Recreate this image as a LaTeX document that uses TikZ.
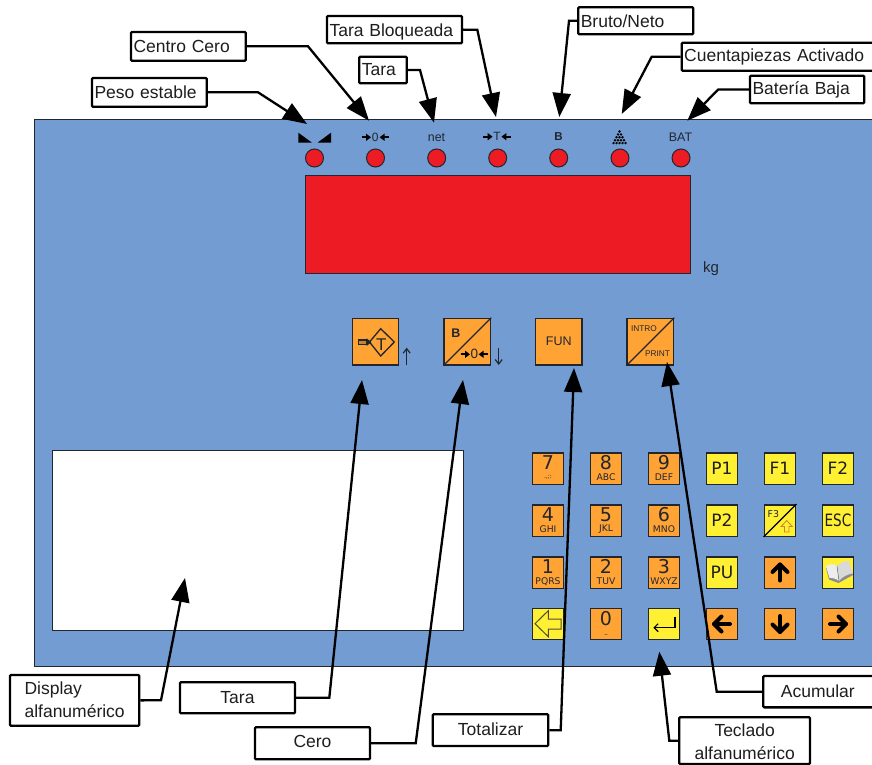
\documentclass[tikz,border=0pt]{standalone}
\usepackage{fontspec}
\setmainfont{Liberation Sans}
\newfontfamily\djvu{DejaVu Sans}
\usetikzlibrary{arrows.meta,calc}
\definecolor{panelblue}{HTML}{729CD2}
\definecolor{ledred}{HTML}{ED1C24}
\definecolor{keyorange}{HTML}{FFA335}
\definecolor{keyyellow}{HTML}{FFF033}
\definecolor{ink}{HTML}{1E1E1E}
\definecolor{panelink}{HTML}{22262E}
\tikzset{
  lbl/.style={draw=black,fill=white,line width=2.3pt,rounded corners=1pt,inner ysep=0pt,text=ink,font=\fontsize{17.5}{23}\selectfont},
  topl/.style={align=left,text width=\lblw pt,inner xsep=2.5pt},
  midl/.style={align=center,inner xsep=0pt},
  conn/.style={draw=black,line width=2.3pt,line join=miter,-{Triangle[length=24pt,width=18pt]}},
  led/.style={circle,draw=panelink,line width=1pt,fill=ledred,minimum size=18pt,inner sep=0pt},
  keybox/.style={draw=panelink,line width=1.4pt,minimum size=#1,inner sep=0pt},
  icontext/.style={text=panelink,inner sep=0pt},
  iconarrow/.style={draw=black,line width=2pt,-{Triangle[length=5pt,width=7pt]}},
  boldarrow/.style={draw=black,line width=4pt,line cap=round,line join=round},
}
\newcommand\lab[7]{%
  \pgfmathsetmacro\lblcx{(#3+#5)/2}\pgfmathsetmacro\lblcy{(#4+#6)/2}%
  \pgfmathsetmacro\lblwd{#5-#3}\pgfmathsetmacro\lblht{#6-#4}\pgfmathsetmacro\lblw{#5-#3-5}%
  \node[lbl,#1,minimum width=\lblwd pt,minimum height=\lblht pt] (#2) at (\lblcx,\lblcy) {#7};}
\newcommand\numkey[6]{%
  \node[keybox=31.4pt,fill=#4] (#1) at (#2,#3) {};
  \node[font=\djvu\fontsize{19}{19}\selectfont,icontext] (#1d) at ([yshift=5.6pt]#1.center) {#5};
  \node[font=\djvu\fontsize{9.2}{9.2}\selectfont,icontext] (#1s) at ([yshift=-9pt]#1.center) {#6};}
\newcommand\txtkey[5]{%
  \node[keybox=31.4pt,fill=#4,font=\djvu\fontsize{17}{17}\selectfont,text=ink] (#1) at (#2,#3) {#5};}
\newcommand\zeroicon[4]{%
  \node[icontext,font=\fontsize{#4}{#4}\selectfont] (#1) at (#2,#3) {0};
  \draw[iconarrow] ([xshift=-13.7pt]#1.center) -- ([xshift=-4.3pt]#1.center);
  \draw[iconarrow] ([xshift=13.7pt]#1.center) -- ([xshift=4.3pt]#1.center);}
\newcommand\boldarr[4]{%
  \node[keybox=31.4pt,fill=keyorange] (#1) at (#2,#3) {};
  \begin{scope}[shift={(#1.center)},rotate=#4]
    \draw[boldarrow] (-8pt,0pt) -- (8pt,0pt);
    \draw[boldarrow] (0.5pt,-7.5pt) -- (8pt,0pt) -- (0.5pt,7.5pt);
  \end{scope}}
\begin{document}
\begin{tikzpicture}[x=1pt,y=-1pt]
\useasboundingbox (0,0) rectangle (872,765);
\clip (0,0) rectangle (872,765);
\fill[white] (0,0) rectangle (872,765);
% panel
\draw[fill=panelblue,draw=panelink,line width=1pt] (34,120) rectangle (890,666);
% leds
\foreach \n/\x in {a/314.5,b/375.5,c/436.7,d/497.7,e/558.7,f/620,g/681}
  \node[led] (led\n) at (\x,158) {};
% status icons
\fill[black] (298.3,132.7) -- (298.3,142.7) -- (312,142.7) -- cycle;
\fill[black] (331,132.7) -- (331,142.7) -- (317.5,142.7) -- cycle;
\zeroicon{zeroA}{375.3}{137.3}{12}
\node[icontext,font=\fontsize{12.4}{12.4}\selectfont] (netlab) at (436.5,137.5) {net};
\node[icontext,font=\fontsize{12}{12}\selectfont] (tlab) at (497,136.7) {T};
\draw[iconarrow] (483,136.7) -- (492.6,136.7);
\draw[iconarrow] (511,136.7) -- (501.4,136.7);
\node[icontext,font=\bfseries\fontsize{11.5}{11.5}\selectfont] (blab) at (558.5,136.3) {B};
\foreach \r in {0,...,4}
  \foreach \i in {0,...,\r}
    \fill[black] ({619.5+(\i-\r/2)*3},{131.5+\r*2.9}) circle (1.35);
\node[icontext,font=\fontsize{12.4}{12.4}\selectfont] (batlab) at (680.5,137) {BAT};
% main display
\draw[fill=ledred,draw=panelink,line width=1pt] (305.5,175) rectangle (690,273);
\node[icontext,font=\fontsize{15}{15}\selectfont] (kg) at (711,269) {kg};
% upper keys
\node[keybox=46.5pt,fill=keyorange] (ktare) at (375.5,341.7) {};
\draw[draw=panelink,line width=1.3pt] (380.7,328.7) -- (394.3,342) -- (380.7,356) -- (369.5,342) -- cycle;
\node[icontext,font=\fontsize{17}{17}\selectfont] (ktaret) at (381.3,344.7) {T};
\draw[draw=panelink,line width=1.1pt,fill=keyorange!80!black] (358.5,340) rectangle (367,344.3);
\fill[panelink] (366.5,338.3) -- (371.5,342.2) -- (366.5,346) -- cycle;
\node[keybox=46.5pt,fill=keyorange] (kzero) at (467.3,341.7) {};
\draw[panelink,line width=1.2pt] (kzero.south west) -- (kzero.north east);
\node[icontext,font=\bfseries\fontsize{12.5}{12.5}\selectfont] (kzerob) at (456,333.5) {B};
\zeroicon{kzeroz}{474.3}{354.3}{13.5}
\node[keybox=46.5pt,fill=keyorange,font=\fontsize{12.5}{12.5}\selectfont,text=panelink] (kfun) at (558.7,341.7) {FUN};
\node[keybox=46.5pt,fill=keyorange] (kintro) at (650.3,341.7) {};
\draw[panelink,line width=1.2pt] (kintro.south west) -- (kintro.north east);
\node[icontext,font=\fontsize{8.3}{8.3}\selectfont] (kintrot) at (644,328.5) {INTRO};
\node[icontext,font=\fontsize{8.3}{8.3}\selectfont] (kprint) at (657.5,354) {PRINT};
\coordinate (upA) at (406.7,365);
\coordinate (upB) at (406.7,347.7);
\coordinate (dnA) at (498.7,348);
\coordinate (dnB) at (498.7,365);
\draw[panelink,line width=1.2pt,-{Straight Barb[length=4.5pt,width=7pt]}] (upA) -- (upB);
\draw[panelink,line width=1.2pt,-{Straight Barb[length=4.5pt,width=7pt]}] (dnA) -- (dnB);
% alphanumeric display
\draw[fill=white,draw=panelink,line width=1pt] (52,450) rectangle (463,630);
% keypad
\numkey{k7}{548}{468.5}{keyorange}{7}{\fontsize{6}{6}\selectfont .,;:}
\numkey{k8}{606}{468.5}{keyorange}{8}{ABC}
\numkey{k9}{664}{468.5}{keyorange}{9}{DEF}
\numkey{k4}{548}{520.5}{keyorange}{4}{GHI}
\numkey{k5}{606}{520.5}{keyorange}{5}{JKL}
\numkey{k6}{664}{520.5}{keyorange}{6}{MNO}
\numkey{k1}{548}{572.5}{keyorange}{1}{PQRS}
\numkey{k2}{606}{572.5}{keyorange}{2}{TUV}
\numkey{k3}{664}{572.5}{keyorange}{3}{WXYZ}
\numkey{k0}{606}{624}{keyorange}{0}{\fontsize{6}{6}\selectfont \raisebox{-1.5pt}{\_}}
\node[keybox=31.4pt,fill=keyyellow] (kback) at (548,624) {};
\draw[panelink!80!keyyellow,line width=1pt] (535,623.7) -- (548.3,610.7) -- (548.3,619) -- (561,619) -- (561,629) -- (548.3,629) -- (548.3,636.7) -- cycle;
\node[keybox=31.4pt,fill=keyyellow] (kenter) at (664,624) {};
\draw[black,line width=1.2pt,-{Straight Barb[length=4pt,width=8pt]}] (675,616.7) -- (675,627.7) -- (653.3,627.7);
\txtkey{kp1}{722}{468.5}{keyyellow}{P1}
\txtkey{kf1}{780}{468.5}{keyyellow}{F1}
\txtkey{kf2}{838}{468.5}{keyyellow}{F2}
\txtkey{kp2}{722}{520.5}{keyyellow}{P2}
\node[keybox=31.4pt,fill=keyyellow] (kf3) at (780,520.5) {};
\draw[black,line width=1.2pt] (kf3.south west) -- (kf3.north east);
\node[icontext,font=\djvu\fontsize{9.4}{9.4}\selectfont] (kf3t) at (773.3,514) {F3};
\draw[draw=keyorange!80!black,line width=.8pt,fill=keyyellow] (786.7,520.5) -- (792.3,526.5) -- (789,526.5) -- (789,532) -- (784.4,532) -- (784.4,526.5) -- (781.1,526.5) -- cycle;
\txtkey{kesc}{838}{520.5}{keyyellow}{\scalebox{.8}[1]{ESC}}
\txtkey{kpu}{722}{572.5}{keyyellow}{PU}
\boldarr{kup}{780}{572.5}{90}
\node[keybox=31.4pt,fill=keyyellow] (kbook) at (838,572.5) {};
\fill[black!45] (826,568) -- (829,579.5) -- (838.5,583) -- (853,575) -- (851,570) -- cycle;
\fill[white!93!black] (826,566.5) .. controls (830,563.5) and (834,563.5) .. (837,566) -- (839,581) .. controls (836,578.5) and (832,577.5) .. (829.5,578) -- cycle;
\fill[white!85!black] (837,566) .. controls (840,562.5) and (845,561) .. (849,561) -- (852.5,573.5) .. controls (848,574) and (842,577) .. (839,581) -- cycle;
\draw[black!60,line width=.5pt] (837,566) -- (839,581);
\boldarr{kleft}{722}{624}{180}
\boldarr{kdown}{780}{624}{-90}
\boldarr{kright}{838}{624}{0}
% labels
\lab{topl}{peso}{92}{78}{206.7}{106.7}{Peso estable}
\lab{topl}{centro}{131}{32}{245.7}{60.7}{Centro Cero}
\lab{topl,text height=13.8pt,text depth=1pt}{tarabl}{327}{16}{462}{43.3}{Tara Bloqueada}
\lab{topl}{taratop}{359.3}{56.7}{406.7}{83.3}{Tara}
\lab{topl}{bruto}{578.3}{7.3}{693.3}{34.3}{Bruto/Neto}
\lab{topl}{cuenta}{681.7}{42.7}{900}{70.7}{Cuentapiezas Activado}
\lab{topl}{bateria}{750}{75.7}{864.3}{103.3}{Batería Baja}
\lab{midl}{displ}{10}{675}{139.3}{725.7}{\raisebox{0pt}[20pt][9.2pt]{\begin{tabular}{@{}l@{}}Display\\alfanumérico\end{tabular}}}
\lab{midl,text height=11.3pt,text depth=.7pt}{tarabot}{180}{682.3}{295}{713.3}{Tara}
\lab{midl,text height=10.3pt,text depth=1.7pt}{cero}{255}{727.3}{370}{759.3}{Cero}
\lab{midl,text height=11pt,text depth=1pt}{total}{432.7}{714.3}{548.3}{746}{Totalizar}
\lab{midl}{teclado}{679.3}{717.3}{810}{764}{\raisebox{0pt}[20pt][6.2pt]{\begin{tabular}{@{}c@{}}Teclado\\alfanumérico\end{tabular}}}
\node[lbl,minimum width=136pt,minimum height=31.3pt,inner xsep=0pt,text height=11.3pt,text depth=.7pt] (acum) at (831.3,691.7) {\hspace*{-27pt}Acumular};
% connector ends
\foreach \n/\x/\y in {tpeso/307/124,tcentro/369/120.7,ttarabl/496/117,ttara/434/122.7,tbruto/559.3/117,tcuenta/621.7/114,tbat/687.3/120.7,tdisp/185/578,ttarak/362/380,tcero/463/380,ttotal/574/368,tteclado/659.3/651.7,tacum/667/362}
  \coordinate (\n) at (\x,\y);
\draw[conn] (peso.east) -- (258,92.3) -- (tpeso);
\draw[conn] (centro.east) -- (308,46.3) -- (tcentro);
\draw[conn] (tarabl.east) -- (477.3,29.7) -- (ttarabl);
\draw[conn] (taratop.east) -- (420,70) -- (ttara);
\draw[conn] (bruto.west) -- (569,20.8) -- (tbruto);
\draw[conn] (cuenta.west) -- (651.7,56.7) -- (tcuenta);
\draw[conn] (bateria.west) -- (718.3,89.5) -- (tbat);
\draw[conn] (displ.east) -- (161,700.3) -- (tdisp);
\draw[conn] (tarabot.east) -- (329.3,697.8) -- (ttarak);
\draw[conn] (cero.east) -- (415.7,743.3) -- (tcero);
\draw[conn] (total.east) -- (560.7,730.2) -- (ttotal);
\draw[conn] (teclado.west) -- (669.3,740.7) -- (tteclado);
\draw[conn] (acum.west) -- (716.7,691.7) -- (tacum);
\end{tikzpicture}
\end{document}
